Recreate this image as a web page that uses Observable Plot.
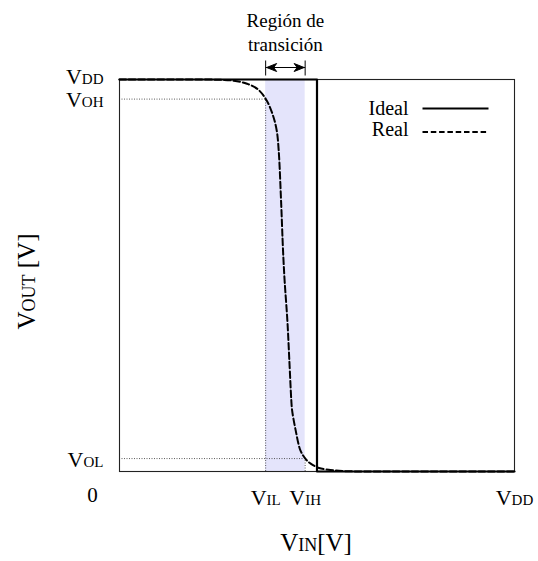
<!DOCTYPE html>
<html>
<head>
<meta charset="utf-8">
<script src="https://cdn.jsdelivr.net/npm/d3@7"></script>
<script src="https://cdn.jsdelivr.net/npm/@observablehq/plot@0.6"></script>
<style>
  body { margin: 0; background: #fff; }
  svg { display: block; }
  svg text { font-family: "Liberation Serif", "Times New Roman", serif; }
</style>
</head>
<body>
<script>
// Voltage levels (normalised to the supply VDD)
const VDD = 1;
const VIL = 0.37;
const VIH = 0.47;
const VOH = 0.95;
const VOL = 0.033;
const VM = 0.5; // switching point of the ideal inverter

// Real transfer characteristic: input and output voltages
const vin  = [0, 0.15, 0.289, 0.323, 0.349, 0.370, 0.387, 0.398, 0.403, 0.409, 0.414, 0.418,
              0.425, 0.430, 0.435, 0.437, 0.446, 0.458, 0.471, 0.484, 0.505, 0.534, 0.567, 0.70, 1];
const vout = [1, 1, 0.997, 0.989, 0.976, 0.951, 0.913, 0.870, 0.819, 0.691, 0.564, 0.487,
              0.385, 0.283, 0.181, 0.156, 0.105, 0.054, 0.032, 0.020, 0.009, 0.004, 0.001, 0, 0];

// Ideal transfer characteristic
const idealVin  = [0, VM, VM, VDD];
const idealVout = [VDD, VDD, 0, 0];

// Tick positions and their labels (lower case letters render as small capitals)
const xTicks = [VIL, VIH, VDD];
const xTickLabels = ["Vil", "Vih", "Vdd"];
const yTicks = [VOL, VOH, VDD];
const yTickLabels = ["Vol", "Voh", "Vdd"];

// Legend entries
const legendNames = ["Ideal", "Real"];
const legendDash = ["none", "5.5,2.8"];

const xLabelOf = new Map(xTicks.map((d, i) => [d, xTickLabels[i]]));
const yLabelOf = new Map(yTicks.map((d, i) => [d, yTickLabels[i]]));

const serif = "Liberation Serif";

// Custom symbols: ends of the transition-width arrow and legend line samples
const endLeft = {
  draw(ctx) {
    ctx.moveTo(0, -7); ctx.lineTo(0, 8);
    ctx.moveTo(1, 0); ctx.lineTo(11, -4); ctx.lineTo(8, 0); ctx.lineTo(11, 4); ctx.closePath();
  }
};
const endRight = {
  draw(ctx) {
    ctx.moveTo(0, -7); ctx.lineTo(0, 8);
    ctx.moveTo(-1, 0); ctx.lineTo(-11, -4); ctx.lineTo(-8, 0); ctx.lineTo(-11, 4); ctx.closePath();
  }
};
const sampleLine = {
  draw(ctx) { ctx.moveTo(-33, 0); ctx.lineTo(33, 0); }
};

const dotted = {stroke: "#333", strokeWidth: 0.8, strokeDasharray: "1,1.5"};

// y tick labels: the top (VDD) label sits a little higher so that it clears VOH
const yAxisOpts = {
  tickFormat: (d) => yLabelOf.get(d), tickSize: 0, tickPadding: 16,
  fontSize: 22, fontVariant: "small-caps", fontFamily: serif, label: null
};

// legend rows, placed from the top-right corner of the frame
const legendMarks = legendNames.flatMap((name, i) => [
  Plot.text([name], {
    frameAnchor: "top-right", textAnchor: "end", lineAnchor: "middle",
    dx: -106, dy: 29 + 21 * i, fontSize: 20, fontFamily: serif
  }),
  Plot.dot([name], {
    frameAnchor: "top-right", dx: -59, dy: 29 + 23.5 * i, symbol: sampleLine,
    fill: "none", stroke: "#000", strokeWidth: 2, strokeDasharray: legendDash[i]
  })
]);

const chart = Plot.plot({
  width: 538,
  height: 561,
  marginLeft: 119,
  marginRight: 24,
  marginTop: 79,
  marginBottom: 90,
  style: {fontFamily: serif, color: "#000", background: "#fff"},
  x: {domain: [0, VDD], axis: null},
  y: {domain: [0, VDD], axis: null},
  marks: [
    // transition region
    Plot.rect([0], {x1: VIL, x2: VIH, y1: 0, y2: VDD, fill: "#e4e4fb"}),
    // guide lines for VOH / VIL and VOL / VIH
    Plot.ruleY([VOH], {x1: 0, x2: VIL, ...dotted}),
    Plot.ruleX([VIL], {y1: 0, y2: VOH, ...dotted}),
    Plot.ruleY([VOL], {x1: 0, x2: VIH, ...dotted}),
    Plot.ruleX([VIH], {y1: 0, y2: VOL, ...dotted}),
    Plot.frame({stroke: "#222", strokeWidth: 1.1}),
    // ideal and real characteristics
    Plot.line(idealVin.map((d, i) => [d, idealVout[i]]), {x: "0", y: "1", stroke: "#000", strokeWidth: 2.2}),
    Plot.line(vin.map((d, i) => [d, vout[i]]), {
      x: "0", y: "1", curve: "catmull-rom", stroke: "#000", strokeWidth: 2, strokeDasharray: "6.5,3"
    }),
    // axes
    Plot.axisX(xTicks, {
      tickFormat: (d) => xLabelOf.get(d), tickSize: 0, tickPadding: 18,
      fontSize: 22, fontVariant: "small-caps", fontFamily: serif, label: null
    }),
    Plot.axisY(yTicks.filter((d) => d !== VDD), {...yAxisOpts, dy: 1}),
    Plot.axisY([VDD], {...yAxisOpts, dy: -3}),
    Plot.text(["0"], {x: 0, y: 0, dx: -27, dy: 24, fontSize: 21, fontFamily: serif}),
    Plot.text(["Vout [V]"], {
      frameAnchor: "left", textAnchor: "middle", lineAnchor: "middle", rotate: -90,
      dx: -93, dy: 6, fontSize: 25, fontVariant: "small-caps", fontFamily: serif
    }),
    Plot.text(["Vin[V]"], {
      frameAnchor: "bottom", textAnchor: "middle", lineAnchor: "middle",
      dy: 71, dx: -1, fontSize: 25, fontVariant: "small-caps", fontFamily: serif
    }),
    // transition width annotation
    Plot.link([0], {x1: VIL, x2: VIH, y1: VDD, y2: VDD, dy: -12, stroke: "#000", strokeWidth: 1}),
    Plot.dot([VIL], {x: (d) => d, y: VDD, dy: -12, symbol: endLeft, fill: "#000", stroke: "#000", strokeWidth: 1}),
    Plot.dot([VIH], {x: (d) => d, y: VDD, dy: -12, symbol: endRight, fill: "#000", stroke: "#000", strokeWidth: 1}),
    Plot.text(["Región de\ntransición"], {
      x: (VIL + VIH) / 2, y: VDD, dy: -48, fontSize: 19, lineHeight: 1.27, fontFamily: serif
    }),
    // legend
    ...legendMarks
  ]
});

document.body.appendChild(chart);
</script>
</body>
</html>
